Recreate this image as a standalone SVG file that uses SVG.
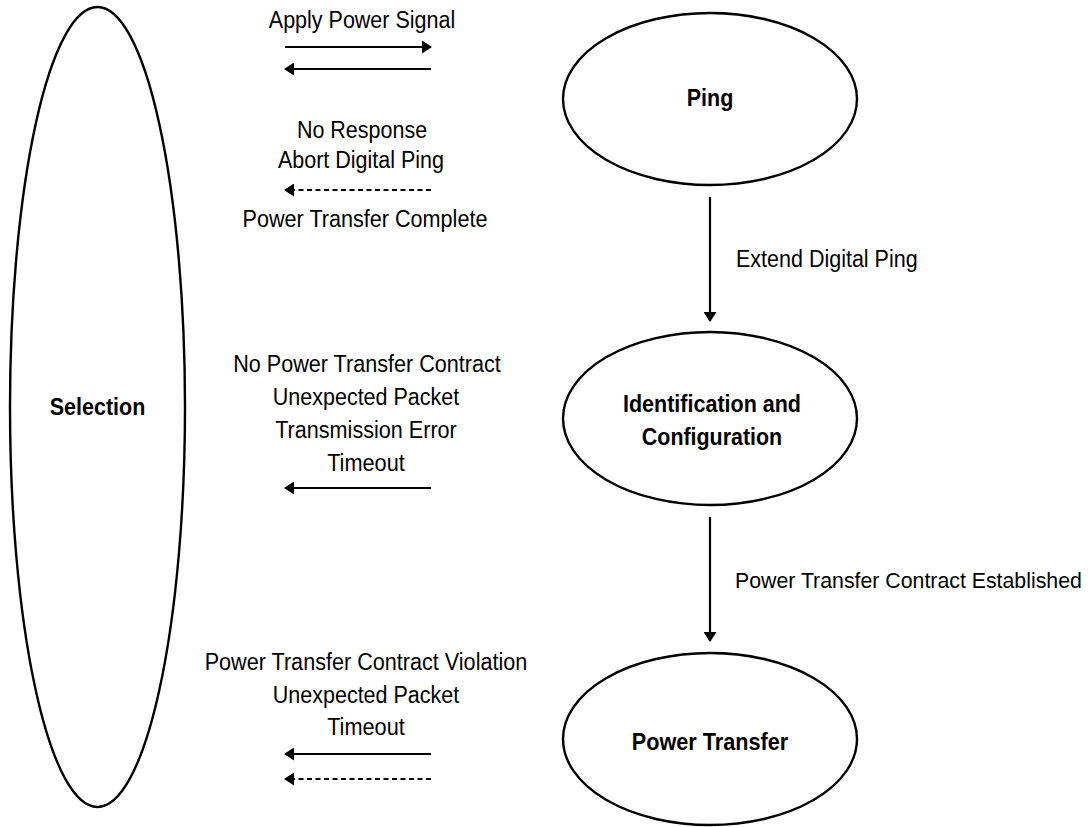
<svg xmlns="http://www.w3.org/2000/svg" width="1091" height="827" viewBox="0 0 1091 827">
<defs>
<marker id="ah" viewBox="0 0 10 13" refX="9" refY="6.5" markerWidth="10" markerHeight="13" markerUnits="userSpaceOnUse" orient="auto">
<path d="M0,0 L10,6.5 L0,13 z" fill="#000"/>
</marker>
</defs>
<style>
.node{fill:#fff;stroke:#000;stroke-width:2.4}
.lbl{font-family:"Liberation Sans",Arial,sans-serif;font-size:23.5px;fill:#000;text-anchor:middle}
.b{font-weight:bold}
.st{font-family:"Liberation Sans",Arial,sans-serif;font-size:23.5px;fill:#000}
.c{stroke:#000;stroke-width:2.2;fill:none;marker-end:url(#ah)}
.d{stroke-dasharray:5 3.5}
</style>
<rect width="1091" height="827" fill="#fff"/>
<g id="selection">
<ellipse class="node" cx="97.5" cy="407" rx="87.5" ry="400"/>
<text class="lbl b" x="97.5" y="415" textLength="95.6" lengthAdjust="spacingAndGlyphs">Selection</text>
</g>
<g id="ping">
<ellipse class="node" cx="710" cy="99" rx="147" ry="86"/>
<text class="lbl b" x="710" y="106" textLength="46.6" lengthAdjust="spacingAndGlyphs">Ping</text>
</g>
<g id="identification">
<ellipse class="node" cx="710" cy="418.5" rx="147" ry="86.5"/>
<text class="lbl b" x="712" y="412" textLength="178" lengthAdjust="spacingAndGlyphs">Identification and</text>
<text class="lbl b" x="712" y="445" textLength="140.3" lengthAdjust="spacingAndGlyphs">Configuration</text>
</g>
<g id="powertransfer">
<ellipse class="node" cx="710" cy="739" rx="147" ry="86"/>
<text class="lbl b" x="710" y="750" textLength="156.5" lengthAdjust="spacingAndGlyphs">Power Transfer</text>
</g>
<g id="connectors">
<line class="c" x1="285" y1="47" x2="431" y2="47"/>
<line class="c" x1="431" y1="69" x2="285" y2="69"/>
<line class="c d" x1="431" y1="190" x2="285" y2="190"/>
<line class="c" x1="431" y1="488" x2="285" y2="488"/>
<line class="c" x1="431" y1="754" x2="285" y2="754"/>
<line class="c d" x1="431" y1="779" x2="285" y2="779"/>
<line class="c" x1="710" y1="197" x2="710" y2="321"/>
<line class="c" x1="710" y1="517" x2="710" y2="641"/>
</g>
<g id="labels">
<text class="lbl" x="362" y="28" textLength="186.4" lengthAdjust="spacingAndGlyphs">Apply Power Signal</text>
<text class="lbl" x="362" y="138" textLength="130.2" lengthAdjust="spacingAndGlyphs">No Response</text>
<text class="lbl" x="361" y="168" textLength="166.1" lengthAdjust="spacingAndGlyphs">Abort Digital Ping</text>
<text class="lbl" x="365" y="227" textLength="244.9" lengthAdjust="spacingAndGlyphs">Power Transfer Complete</text>
<text class="lbl" x="367" y="372" textLength="267.6" lengthAdjust="spacingAndGlyphs">No Power Transfer Contract</text>
<text class="lbl" x="366" y="405" textLength="186.4" lengthAdjust="spacingAndGlyphs">Unexpected Packet</text>
<text class="lbl" x="366" y="438" textLength="181.6" lengthAdjust="spacingAndGlyphs">Transmission Error</text>
<text class="lbl" x="366" y="471" textLength="77.7" lengthAdjust="spacingAndGlyphs">Timeout</text>
<text class="lbl" x="366" y="670" textLength="322.6" lengthAdjust="spacingAndGlyphs">Power Transfer Contract Violation</text>
<text class="lbl" x="366" y="703" textLength="186.4" lengthAdjust="spacingAndGlyphs">Unexpected Packet</text>
<text class="lbl" x="366" y="735" textLength="77.7" lengthAdjust="spacingAndGlyphs">Timeout</text>
<text class="st" x="736" y="267" textLength="181.6" lengthAdjust="spacingAndGlyphs">Extend Digital Ping</text>
<text class="st" x="735" y="588" style="font-size:21.3px">Power Transfer Contract Established</text>
</g>
</svg>
